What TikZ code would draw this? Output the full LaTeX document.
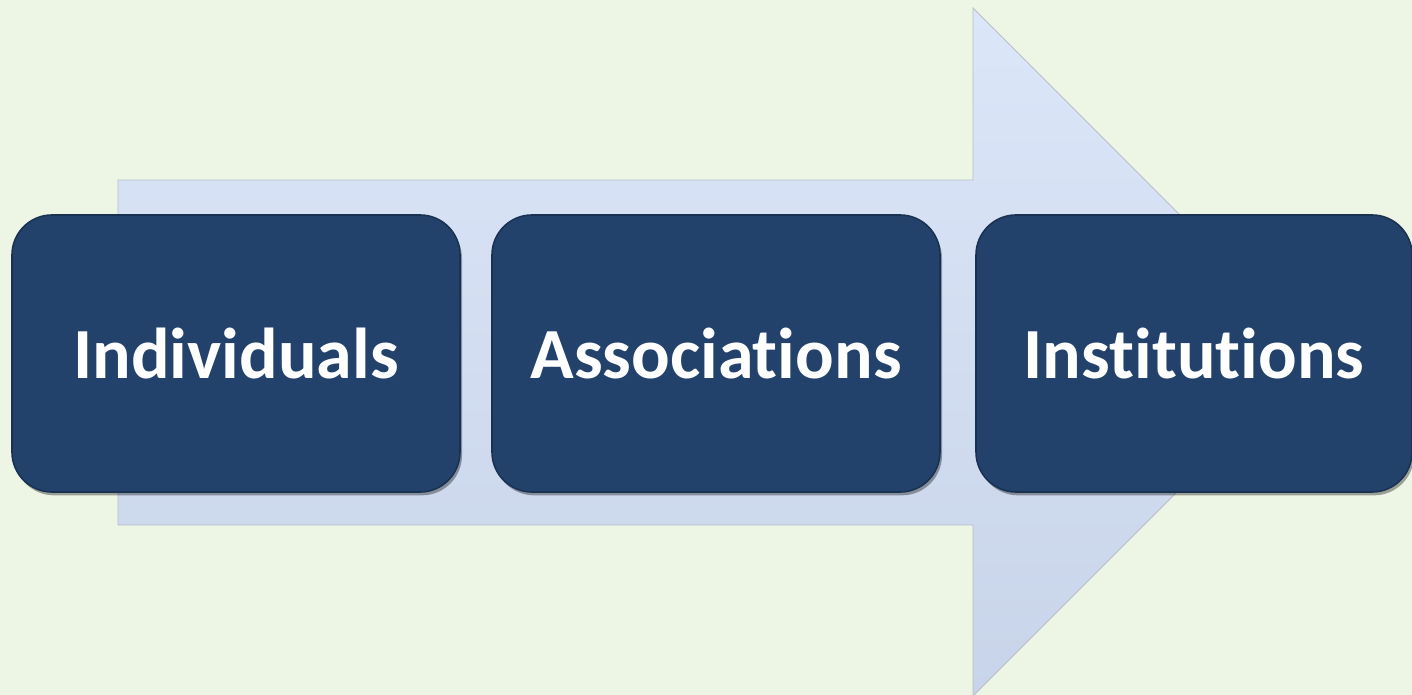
\documentclass[tikz,border=0pt]{standalone}
\usepackage{fontspec}
\setmainfont[Ligatures={NoCommon}]{Carlito}
\usetikzlibrary{shadows}
\definecolor{bgc}{HTML}{EDF5E5}
\definecolor{arrtop}{HTML}{DCE6F9}
\definecolor{arrbot}{HTML}{C8D4E9}
\definecolor{arredge}{HTML}{B8BFC8}
\definecolor{navy}{HTML}{23426B}
\definecolor{navyedge}{HTML}{1A3252}
\tikzset{
  stagebox/.style={draw=navyedge, line width=1.2pt, fill=navy, rounded corners=30pt,
    minimum width=#1, minimum height=207.75pt, inner sep=0pt,
    text=white, font=\bfseries\fontsize{54}{60}\selectfont,
    drop shadow={shadow xshift=1.5pt, shadow yshift=-2.5pt, opacity=0.35, fill=black}},
}
\begin{document}
\begin{tikzpicture}[x=0.75pt,y=-0.75pt]
\fill[bgc] (0,0) rectangle (1412,695);
\useasboundingbox (0,0) rectangle (1412,695);
% big arrow
\path[draw=arredge, line width=0.6pt, top color=arrtop, bottom color=arrbot]
  (118,180) -- (973,180) -- (973,8) -- (1317,352) -- (973,696) -- (973,525) -- (118,525) -- cycle;
% stages
\node[stagebox=336pt] (ind) at (236,353.5) {Individuals};
\node[stagebox=336pt] (ass) at (716,353.5) {Associations};
\node[stagebox=327pt] (ins) at (1194,353.5) {Institutions};
\end{tikzpicture}
\end{document}
